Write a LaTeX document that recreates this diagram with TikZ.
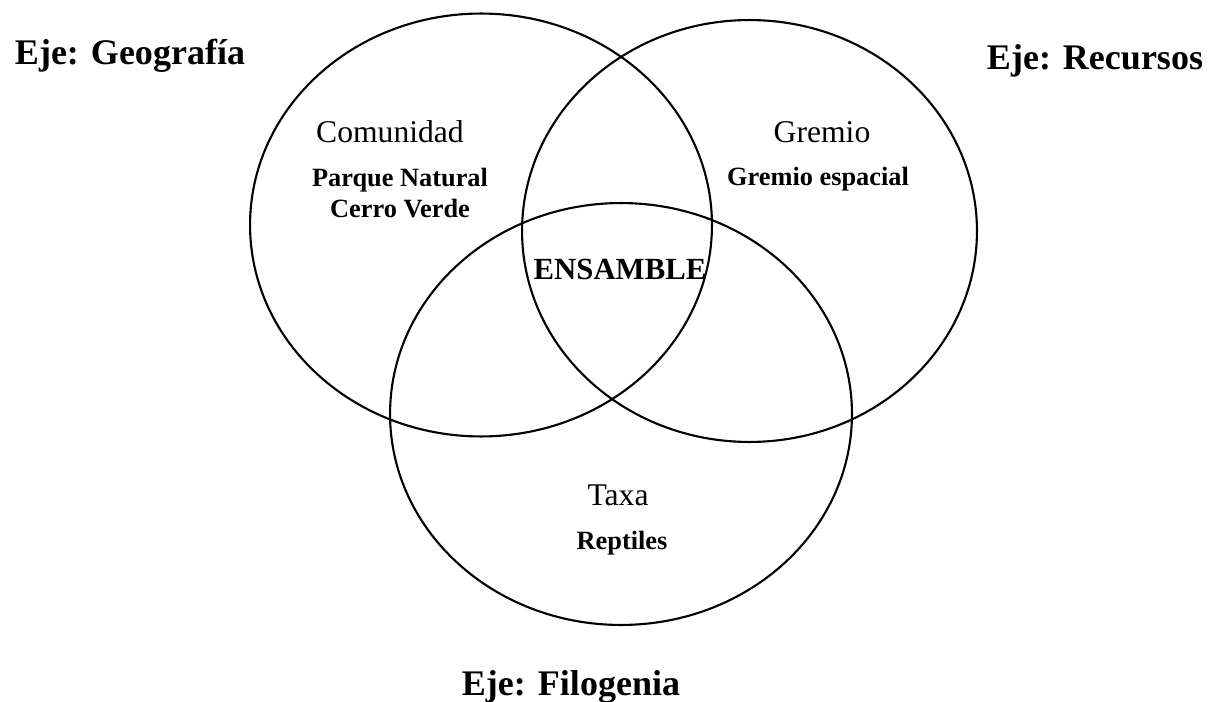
\documentclass[tikz,border=0pt]{standalone}
\usepackage{fontspec}
\setmainfont{Liberation Serif}
\usepackage{tikz}
\usetikzlibrary{positioning, shapes.geometric}

\begin{document}
\begin{tikzpicture}[
    x=0.02cm, y=-0.02cm,
    set/.style={ellipse, draw, line width=1.2pt, inner sep=0pt, minimum width=9.24cm, minimum height=8.46cm},
    axis/.style={anchor=base, font=\fontsize{20.5}{24}\selectfont\bfseries, inner sep=0pt},
    level/.style={anchor=base, font=\fontsize{18}{21}\selectfont, inner sep=0pt},
    example/.style={anchor=base, font=\fontsize{15}{18}\selectfont\bfseries, inner sep=0pt}
]
\useasboundingbox (0,0) rectangle (1212,702);

% the three sets
\node[set] (geo) at (481, 225) {};
\node[set, minimum width=9.1cm, minimum height=8.44cm] (rec) at (749.5, 231) {};
\node[set, minimum height=8.44cm] (filo) at (621, 414) {};

% axes
\node[axis] (ejegeo) at (130, 65) {Eje: Geografía};
\node[axis] (ejerec) at (1095, 70) {Eje: Recursos};
\node[axis] (ejefilo) at (571, 695) {Eje: Filogenia};

% levels and examples
\node[level] (comunidad) at (390, 143) {Comunidad};
\node[example] (parque) at (400, 187) {Parque Natural};
\node[example] (cerro) at (400, 218) {Cerro Verde};

\node[level] (gremio) at (822, 143) {Gremio};
\node[example] (espacial) at (818, 186) {Gremio espacial};

\node[level] (taxa) at (618, 505) {Taxa};
\node[example] (reptiles) at (622, 549) {Reptiles};

\node[anchor=base, font=\fontsize{17.5}{21}\selectfont\bfseries, inner sep=0pt] (ensamble) at (620, 279) {ENSAMBLE};

\end{tikzpicture}
\end{document}
